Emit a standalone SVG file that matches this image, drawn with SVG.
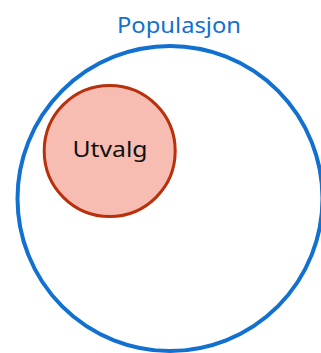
<svg xmlns="http://www.w3.org/2000/svg" width="321" height="353" viewBox="0 0 321 353">
<style>
.lbl{font-family:"Noto Sans","DejaVu Sans",sans-serif;font-size:22px}
</style>
<rect width="321" height="353" fill="#ffffff"/>
<g id="populasjon">
<circle cx="170" cy="198.5" r="152.5" fill="none" stroke="#1270d0" stroke-width="4"/>
<text class="lbl" x="179" y="33" text-anchor="middle" fill="#1270d0" textLength="124" lengthAdjust="spacingAndGlyphs">Populasjon</text>
</g>
<g id="utvalg">
<circle cx="109.7" cy="151" r="65.5" fill="#f7bcb2" stroke="#b8300c" stroke-width="3"/>
<text class="lbl" x="110" y="157" text-anchor="middle" fill="#111111" textLength="75" lengthAdjust="spacingAndGlyphs">Utvalg</text>
</g>
</svg>
